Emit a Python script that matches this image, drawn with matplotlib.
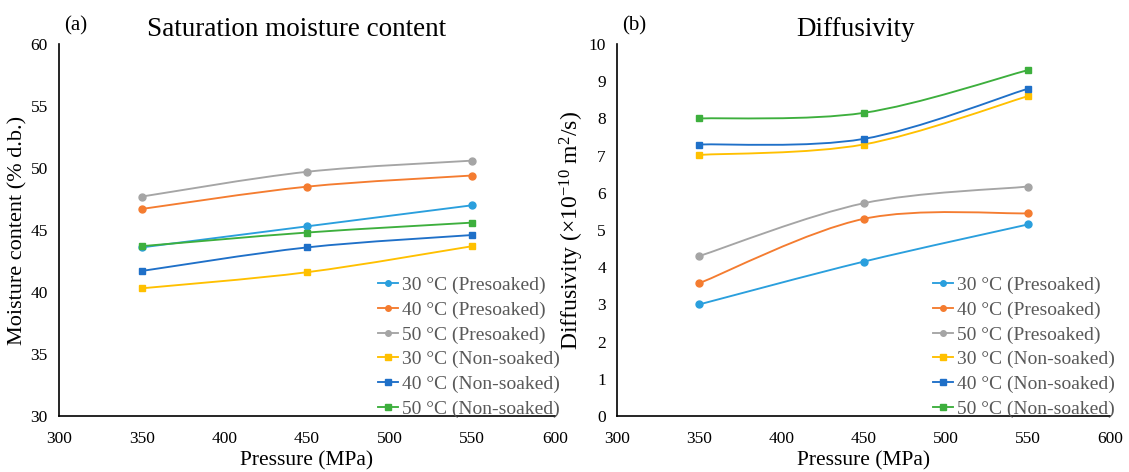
import numpy as np
import matplotlib
matplotlib.use("Agg")
import matplotlib.pyplot as plt
from matplotlib.path import Path
from matplotlib.patches import PathPatch
from matplotlib.lines import Line2D

plt.rcParams["font.family"] = ["Liberation Serif", "DejaVu Serif"]
plt.rcParams["mathtext.fontset"] = "custom"
plt.rcParams["mathtext.rm"] = "Liberation Serif"
plt.rcParams["mathtext.it"] = "Liberation Serif:italic"

pressure = [350, 450, 550]
labels = ["30 °C (Presoaked)", "40 °C (Presoaked)", "50 °C (Presoaked)",
          "30 °C (Non-soaked)", "40 °C (Non-soaked)", "50 °C (Non-soaked)"]
colors = ["#2A9FDD", "#F47C30", "#A5A5A5", "#FFC000", "#1F70C8", "#3DAF3D"]
markers = ["o", "o", "o", "s", "s", "s"]

moisture = [
    [43.6, 45.3, 47.0],
    [46.7, 48.5, 49.4],
    [47.7, 49.7, 50.6],
    [40.3, 41.6, 43.7],
    [41.7, 43.6, 44.6],
    [43.7, 44.8, 45.6],
]
diffusivity = [
    [3.0, 4.15, 5.15],
    [3.57, 5.3, 5.45],
    [4.3, 5.72, 6.17],
    [7.02, 7.3, 8.6],
    [7.3, 7.45, 8.8],
    [8.0, 8.15, 9.3],
]


def smooth_path(x, y):
    # Excel-style smoothed line: Catmull-Rom segments as cubic Beziers
    p = np.column_stack([x, y]).astype(float)
    verts = [p[0]]
    codes = [Path.MOVETO]
    n = len(p)
    for i in range(n - 1):
        p0 = p[i - 1] if i > 0 else p[i]
        p1, p2 = p[i], p[i + 1]
        p3 = p[i + 2] if i + 2 < n else p[i + 1]
        verts += [p1 + (p2 - p0) / 6, p2 - (p3 - p1) / 6, p2]
        codes += [Path.CURVE4] * 3
    return Path(verts, codes)


def draw_panel(ax, data, ylim, yticks, title, title_x, tag, ylabel, ylabel_size):
    for vals, c, m, lab in zip(data, colors, markers, labels):
        ax.add_patch(PathPatch(smooth_path(pressure, vals), facecolor="none",
                               edgecolor=c, lw=1.35))
        ax.plot(pressure, vals, linestyle="none", marker=m, color=c,
                markersize=5 if m == "o" else 4.8)
    ax.set_xlim(300, 600)
    ax.set_ylim(*ylim)
    ax.set_xticks(range(300, 601, 50))
    ax.set_yticks(yticks)
    ax.tick_params(length=0, labelsize=12.5)
    ax.tick_params(axis="x", pad=11)
    ax.tick_params(axis="y", pad=8)
    for s in ["top", "right"]:
        ax.spines[s].set_visible(False)
    for s in ["left", "bottom"]:
        ax.spines[s].set_linewidth(1.2)
    fig.text(title_x, 0.938, title, fontsize=19.5, ha="center", va="center")
    ax.text(0.01, 1.05, tag, transform=ax.transAxes, fontsize=15,
            ha="left", va="center")
    ax.set_xlabel("Pressure (MPa)", fontsize=15.5, labelpad=3)
    ax.set_ylabel(ylabel, fontsize=ylabel_size, labelpad=2)
    handles = [Line2D([], [], color=c, marker=m, lw=1.35, markersize=4)
               for c, m in zip(colors, markers)]
    leg = ax.legend(handles, labels, loc="lower right", frameon=False,
                    fontsize=14, handlelength=1.0, handletextpad=0.2,
                    labelspacing=0.36, borderaxespad=0,
                    bbox_to_anchor=(1.025, -0.025))
    for t in leg.get_texts():
        t.set_color("#595959")


fig = plt.figure(figsize=(11.29, 4.72), dpi=100)
ax1 = fig.add_axes([0.0523, 0.1186, 0.4393, 0.788])
ax2 = fig.add_axes([0.5465, 0.1186, 0.4367, 0.788])

draw_panel(ax1, moisture, (30, 60), range(30, 61, 5),
           "Saturation moisture content", 0.263, "(a)",
           "Moisture content (% d.b.)", 16)
draw_panel(ax2, diffusivity, (0, 10), range(0, 11, 1),
           "Diffusivity", 0.758, "(b)",
           r"Diffusivity (×10$^{-10}$ m$^{2}$/s)", 17)

fig.savefig("out.png", dpi=100)
